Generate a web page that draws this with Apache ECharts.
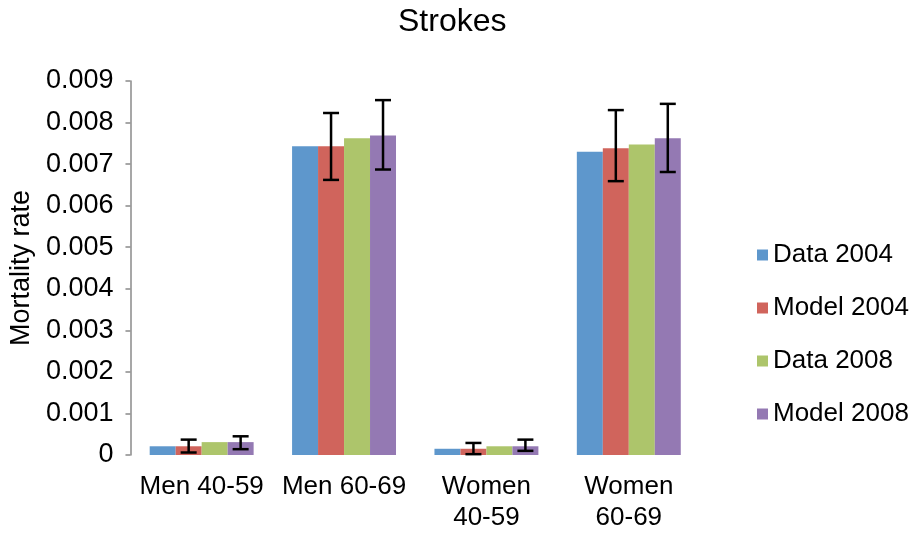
<!DOCTYPE html>
<html>
<head>
<meta charset="utf-8">
<script src="https://cdn.jsdelivr.net/npm/echarts@6/dist/echarts.min.js"></script>
<style>html,body{margin:0;padding:0;background:#fff;}#c{width:911px;height:533px;}</style>
</head>
<body>
<div id="c"></div>
<script>
const categories = ['Men 40-59', 'Men 60-69', 'Women\n40-59', 'Women\n60-69'];
const seriesNames = ['Data 2004', 'Model 2004', 'Data 2008', 'Model 2008'];
const data2004 = [0.00021, 0.00743, 0.00015, 0.00730];
const model2004 = [0.00021, 0.00743, 0.00015, 0.00738];
const data2008 = [0.00031, 0.00762, 0.00021, 0.00747];
const model2008 = [0.00031, 0.00769, 0.00021, 0.00762];
const model2004Low = [0.00006, 0.00662, 0.00002, 0.00659];
const model2004High = [0.00037, 0.00823, 0.00029, 0.00830];
const model2008Low = [0.00014, 0.00687, 0.00010, 0.00681];
const model2008High = [0.00045, 0.00854, 0.00037, 0.00845];
const yTicks = [0, 0.001, 0.002, 0.003, 0.004, 0.005, 0.006, 0.007, 0.008, 0.009];

const colors = ['#5E97CC', '#D0645C', '#ADC56B', '#9479B3'];
const FONT = '"Liberation Sans", Arial, Helvetica, sans-serif';
const CAT_GAP = 0.27;
const NBARS = 4;

function errSeries(low, high, idx) {
  return {
    type: 'custom',
    silent: true,
    z: 10,
    data: low.map((l, i) => [i, l, high[i]]),
    renderItem: function (params, api) {
      const ci = api.value(0);
      const catW = api.size([1, 0])[0];
      const total = catW * (1 - CAT_GAP);
      const barW = total / NBARS;
      const cx = api.coord([ci, 0])[0] - total / 2 + barW * (idx + 0.5);
      const yl = api.coord([ci, api.value(1)])[1];
      const yh = api.coord([ci, api.value(2)])[1];
      const hw = 8;
      const st = { stroke: '#000', lineWidth: 2.5 };
      return {
        type: 'group',
        children: [
          { type: 'line', shape: { x1: cx, y1: yl, x2: cx, y2: yh }, style: st },
          { type: 'line', shape: { x1: cx - hw, y1: yl, x2: cx + hw, y2: yl }, style: st },
          { type: 'line', shape: { x1: cx - hw, y1: yh, x2: cx + hw, y2: yh }, style: st }
        ]
      };
    }
  };
}

const chart = echarts.init(document.getElementById('c'), null, { renderer: 'canvas' });
const values = [data2004, model2004, data2008, model2008];
chart.setOption({
  animation: false,
  backgroundColor: '#fff',
  title: {
    text: 'Strokes', left: 398, top: 6, padding: 0,
    textStyle: { fontFamily: FONT, fontSize: 32, fontWeight: 'normal', color: '#000' }
  },
  legend: {
    orient: 'vertical', left: 752, top: 237,
    itemWidth: 11, itemHeight: 11, itemGap: 27,
    icon: 'rect',
    data: seriesNames,
    textStyle: { fontFamily: FONT, fontSize: 26, color: '#000', padding: [0, 0, 0, 0] }
  },
  grid: { left: 129, width: 571, top: 81, bottom: 75, containLabel: false },
  xAxis: {
    type: 'category', data: categories,
    axisLine: { show: false }, axisTick: { show: false },
    axisLabel: { interval: 0, margin: 16, fontFamily: FONT, fontSize: 26, color: '#000', lineHeight: 31 }
  },
  yAxis: {
    type: 'value', min: 0, max: 0.009, interval: 0.001,
    name: 'Mortality rate', nameLocation: 'middle', nameGap: 93, nameRotate: 90,
    nameTextStyle: { fontFamily: FONT, fontSize: 27, color: '#000' },
    axisLine: { show: true, lineStyle: { color: '#8a8a8a', width: 1.5 } },
    axisTick: { show: true, inside: false, length: 5, lineStyle: { color: '#8a8a8a', width: 1.5 } },
    splitLine: { show: false },
    axisLabel: {
      margin: 17, fontFamily: FONT, fontSize: 27, color: '#000',
      formatter: function (v) {
        const i = yTicks.findIndex(t => Math.abs(t - v) < 1e-9);
        const t = i >= 0 ? yTicks[i] : v;
        return t === 0 ? '0' : t.toFixed(3);
      }
    }
  },
  series: seriesNames.map((n, i) => ({
    name: n, type: 'bar', data: values[i],
    barGap: 0, barCategoryGap: (CAT_GAP * 100) + '%',
    itemStyle: { color: colors[i], borderWidth: 0 }
  })).concat([
    errSeries(model2004Low, model2004High, 1),
    errSeries(model2008Low, model2008High, 3)
  ])
});
</script>
</body>
</html>
